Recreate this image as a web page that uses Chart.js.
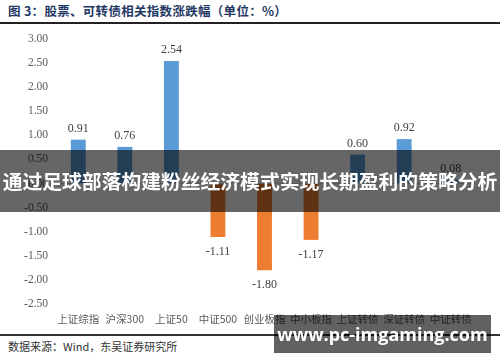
<!DOCTYPE html>
<html>
<head>
<meta charset="utf-8">
<script src="https://cdn.jsdelivr.net/npm/chart.js@4.4.0/dist/chart.umd.min.js"></script>
<style>
  html, body { margin: 0; padding: 0; background: #fff; }
  body { width: 500px; height: 362px; position: relative; overflow: hidden; font-family: "Noto Sans CJK SC", sans-serif; }
  .title { position: absolute; left: 8px; top: 1px; font-size: 12.5px; font-weight: bold; color: #1f3864; letter-spacing: 0.3px; }
  .rule-top { position: absolute; left: 0; top: 22px; width: 500px; height: 2px; background: #222; }
  .rule-bottom { position: absolute; left: 0; top: 334px; width: 500px; height: 1.5px; background: #333; }
  .source { position: absolute; left: 8px; top: 338px; font-size: 11px; color: #333; }
  .chart-box { position: absolute; left: 0; top: 25px; width: 500px; height: 303px; }
  .banner { position: absolute; left: 0; top: 150px; width: 500px; height: 62px; background: rgba(0,0,0,0.6);
            color: #fff; font-weight: bold; font-size: 19.8px; line-height: 62px; text-align: center; white-space: nowrap; }
  .mark { position: absolute; left: 274px; top: 315px; width: 217px; height: 38px; background: rgba(0,0,0,0.62);
          color: #fff; font-family: "Open Sans", sans-serif; font-weight: bold; font-size: 18px; line-height: 38px;
          text-align: center; white-space: nowrap; }
</style>
</head>
<body>
<div class="title">图 3：股票、可转债相关指数涨跌幅（单位：%）</div>
<div class="rule-top"></div>
<div class="chart-box"><canvas id="chart" width="500" height="303"></canvas></div>
<div class="rule-bottom"></div>
<div class="source">数据来源：Wind，东吴证券研究所</div>
<div class="banner">通过足球部落构建粉丝经济模式实现长期盈利的策略分析</div>
<div class="mark">www.pc-imgaming.com</div>

<script>
// index names along the x axis
const categories = ['上证综指', '沪深300', '上证50', '中证500', '创业板指', '中小板指', '上证转债', '深证转债', '中证转债'];
// change in % for each index
const changes = [0.91, 0.76, 2.54, -1.11, -1.80, -1.17, 0.60, 0.92, 0.08];
// y axis range and step
const yMin = -2.5;
const yMax = 3.0;
const yStep = 0.5;

const BLUE = '#5b9bd5';
const ORANGE = '#ed7d31';

// value labels above / below each bar
const valueLabels = {
    id: 'valueLabels',
    afterDatasetsDraw(chart) {
        const ctx = chart.ctx;
        const meta = chart.getDatasetMeta(0);
        ctx.save();
        ctx.font = '12px "Liberation Serif", serif';
        ctx.fillStyle = '#404040';
        ctx.textAlign = 'center';
        meta.data.forEach((bar, i) => {
            const v = changes[i];
            if (v >= 0) {
                ctx.textBaseline = 'bottom';
                ctx.fillText(v.toFixed(2), bar.x, bar.y - 5);
            } else {
                ctx.textBaseline = 'top';
                ctx.fillText(v.toFixed(2), bar.x, bar.y + 9);
            }
        });
        ctx.restore();
    }
};

new Chart(document.getElementById('chart'), {
    type: 'bar',
    data: {
        labels: categories,
        datasets: [{
            data: changes,
            backgroundColor: changes.map(v => v >= 0 ? BLUE : ORANGE),
            barPercentage: 0.64,
            categoryPercentage: 0.5
        }]
    },
    options: {
        responsive: false,
        animation: false,
        layout: { padding: { top: 7, right: 26, left: 0, bottom: 0 } },
        plugins: { legend: { display: false }, tooltip: { enabled: false } },
        scales: {
            x: {
                grid: { display: false },
                border: { display: false },
                ticks: {
                    color: '#595959',
                    font: { family: '"Noto Sans CJK SC", sans-serif', size: 10.5 },
                    maxRotation: 0,
                    autoSkip: false,
                    padding: 1
                },
                afterFit(scale) { scale.height = 24; }
            },
            y: {
                min: yMin,
                max: yMax,
                border: { display: false },
                grid: {
                    drawTicks: false,
                    color: ctx => ctx.tick && ctx.tick.value === 0 ? '#d9d9d9' : 'rgba(0,0,0,0)'
                },
                ticks: {
                    stepSize: yStep,
                    color: '#595959',
                    font: { family: '"Liberation Serif", serif', size: 11.5 },
                    padding: 7,
                    callback: v => v.toFixed(2)
                },
                afterFit(scale) { scale.width = 55; }
            }
        }
    },
    plugins: [valueLabels]
});
</script>
</body>
</html>
